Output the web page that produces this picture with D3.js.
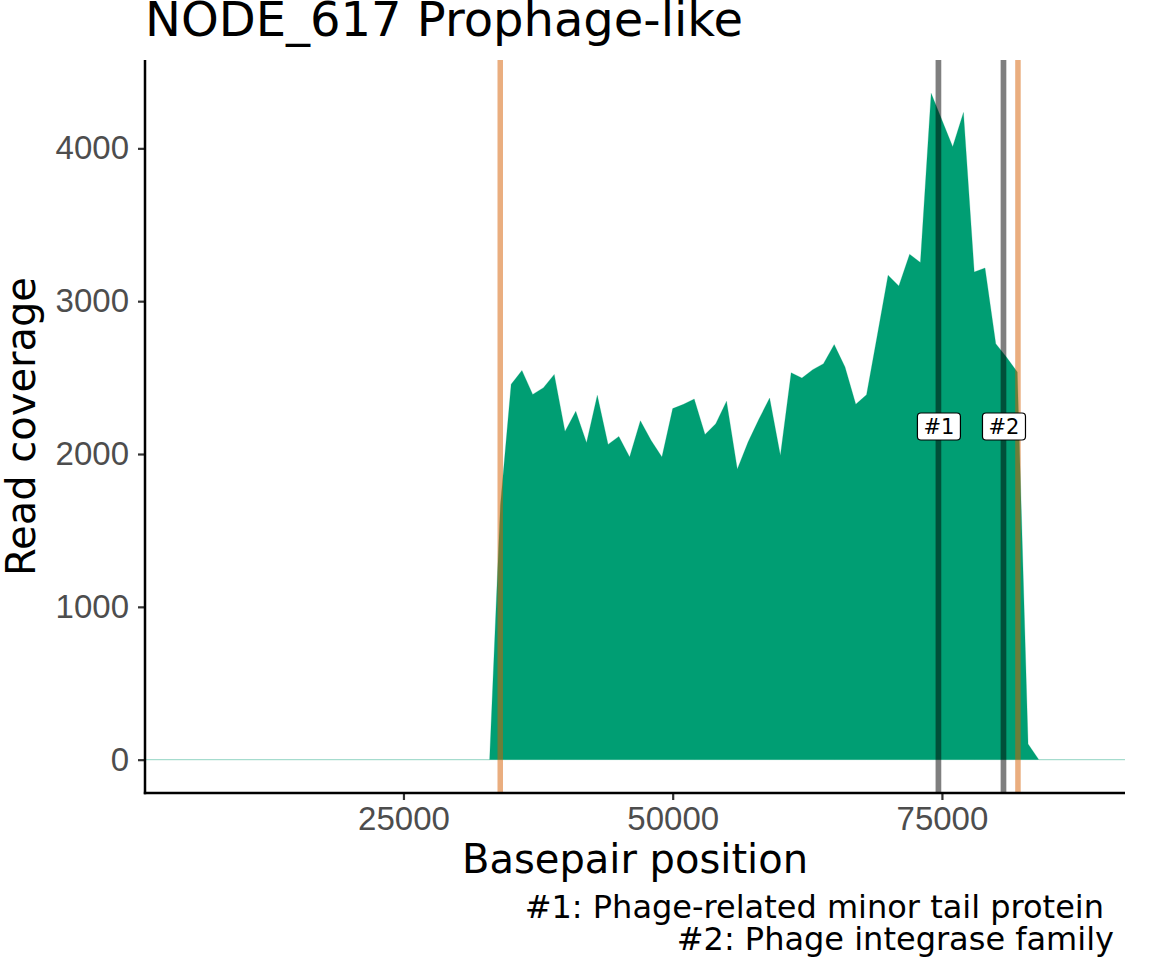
<!DOCTYPE html>
<html>
<head>
<meta charset="utf-8">
<script src="https://cdn.jsdelivr.net/npm/d3@7"></script>
<style>
  body { margin: 0; background: #fff; }
  svg { display: block; font-family: 'DejaVu Sans', sans-serif; }
</style>
</head>
<body>
<svg id="chart" width="1152" height="960"></svg>
<script>

// coverage windows (bp) and read coverage
const position = [1000, 33000, 34000, 35000, 36000, 37000, 38000, 39000, 40000, 41000,
  42000, 43000, 44000, 45000, 46000, 47000, 48000, 49000, 50000, 51000,
  52000, 53000, 54000, 55000, 56000, 57000, 58000, 59000, 60000, 61000,
  62000, 63000, 64000, 65000, 66000, 67000, 68000, 69000, 70000, 71000,
  72000, 73000, 74000, 75000, 76000, 77000, 78000, 79000, 80000, 81000,
  82000, 83000, 84000, 92000];
const coverage = [0, 0, 1663, 2456, 2547, 2390, 2434, 2521, 2148, 2279,
  2074, 2384, 2063, 2115, 1980, 2218, 2089, 1980, 2297, 2325,
  2360, 2128, 2198, 2346, 1901, 2078, 2227, 2366, 1991, 2532,
  2497, 2552, 2591, 2716, 2569, 2325, 2388, 2777, 3170, 3100,
  3307, 3253, 4360, 4185, 4010, 4235, 3191, 3217, 2722, 2633,
  2536, 103, 0, 0];

// prophage boundaries (orange) and annotated genes (grey)
const boundaries = [33987, 82060];
const geneNames = ['#1', '#2'];
const genePositions = [74675, 80716];
const geneLabels = ['#1: Phage-related minor tail protein', '#2: Phage integrase family'];

const xTicks = [25000, 50000, 75000];
const yTicks = [0, 1000, 2000, 3000, 4000];

const svg = d3.select('#chart');
const base = 40;

// panel dimension
const panel = { left: 145, right: 1125, top: 60, bottom: 793 };

const covMax = d3.max(coverage);
const xScale = d3.scaleLinear().domain(d3.extent(position)).range([panel.left, panel.right]);
const yScale = d3.scaleLinear().domain([-0.05 * covMax, 1.05 * covMax]).range([panel.bottom, panel.top]);

const rows = position.map((p, i) => ({ pos: p, cov: coverage[i] }));

// draw area
const area = d3.area()
  .x(d => xScale(d.pos))
  .y0(yScale(0))
  .y1(d => yScale(d.cov));
svg.append('path')
  .attr('d', area(rows))
  .attr('fill', '#009E73')
  .attr('stroke', '#009E73')
  .attr('stroke-opacity', 0.6)
  .attr('stroke-width', 0.4);

// prophage boundary lines
svg.append('g')
  .selectAll('line')
  .data(boundaries)
  .enter()
  .append('line')
  .attr('x1', d => xScale(d))
  .attr('x2', d => xScale(d))
  .attr('y1', panel.top)
  .attr('y2', panel.bottom)
  .attr('stroke', '#D55E00')
  .attr('stroke-opacity', 0.5)
  .attr('stroke-width', 5.5);

// gene lines
svg.append('g')
  .selectAll('line')
  .data(genePositions)
  .enter()
  .append('line')
  .attr('x1', d => xScale(d))
  .attr('x2', d => xScale(d))
  .attr('y1', panel.top)
  .attr('y2', panel.bottom)
  .attr('stroke', '#000')
  .attr('stroke-opacity', 0.5)
  .attr('stroke-width', 5.7);

// gene labels at half the max coverage
const labels = svg.append('g')
  .selectAll('g')
  .data(geneNames)
  .enter()
  .append('g')
  .attr('transform', (d, i) => `translate(${xScale(genePositions[i]) + 0.5}, ${yScale(covMax / 2)})`);
labels.append('rect')
  .attr('x', -21.5)
  .attr('y', -13.5)
  .attr('width', 43)
  .attr('height', 27)
  .attr('rx', 3.5)
  .attr('fill', '#fff')
  .attr('stroke', '#000')
  .attr('stroke-width', 1.2);
labels.append('text')
  .text(d => d)
  .attr('text-anchor', 'middle')
  .attr('dy', '0.36em')
  .style('font-size', '21px')
  .attr('fill', '#000');

// x axis
const xAxis = d3.axisBottom(xScale).tickValues(xTicks).tickSize(7).tickPadding(6).tickFormat(d3.format('d'));
const xG = svg.append('g')
  .attr('transform', `translate(0, ${panel.bottom})`)
  .call(xAxis);

// y axis
const yAxis = d3.axisLeft(yScale).tickValues(yTicks).tickSize(7).tickPadding(9).tickFormat(d3.format('d'));
const yG = svg.append('g')
  .attr('transform', `translate(${panel.left}, 0)`)
  .call(yAxis);

for (let g of [xG, yG]) {
  g.select('.domain').remove();
  g.selectAll('.tick line').attr('stroke', '#333').attr('stroke-width', 2.2);
  g.selectAll('.tick text').attr('fill', '#4D4D4D').style('font-size', '33px').attr('font-family', null);
}
xG.selectAll('.tick text').attr('dy', '0.74em');

// axis lines
svg.append('line')
  .attr('x1', panel.left).attr('x2', panel.left)
  .attr('y1', panel.top).attr('y2', panel.bottom + 1.2)
  .attr('stroke', '#000').attr('stroke-width', 2.5);
svg.append('line')
  .attr('x1', panel.left - 1.2).attr('x2', panel.right)
  .attr('y1', panel.bottom).attr('y2', panel.bottom)
  .attr('stroke', '#000').attr('stroke-width', 2.5);

// titles
svg.append('text')
  .text('NODE_617 Prophage-like')
  .attr('x', panel.left)
  .attr('y', 36)
  .style('font-size', (base * 1.2) + 'px');

svg.append('text')
  .text('Basepair position')
  .attr('x', (panel.left + panel.right) / 2)
  .attr('y', 873)
  .attr('text-anchor', 'middle')
  .style('font-size', base + 'px');

svg.append('text')
  .text('Read coverage')
  .attr('transform', `translate(35, ${(panel.top + panel.bottom) / 2}) rotate(-90)`)
  .attr('text-anchor', 'middle')
  .style('font-size', base + 'px');

// caption with gene names
svg.append('g')
  .selectAll('text')
  .data(geneLabels)
  .enter()
  .append('text')
  .text(d => d)
  .attr('x', (d, i) => i == 0 ? 1104 : 1114)
  .attr('y', (d, i) => 918 + i * 32)
  .attr('text-anchor', 'end')
  .style('font-size', (base * 0.8) + 'px');

</script>
</body>
</html>
